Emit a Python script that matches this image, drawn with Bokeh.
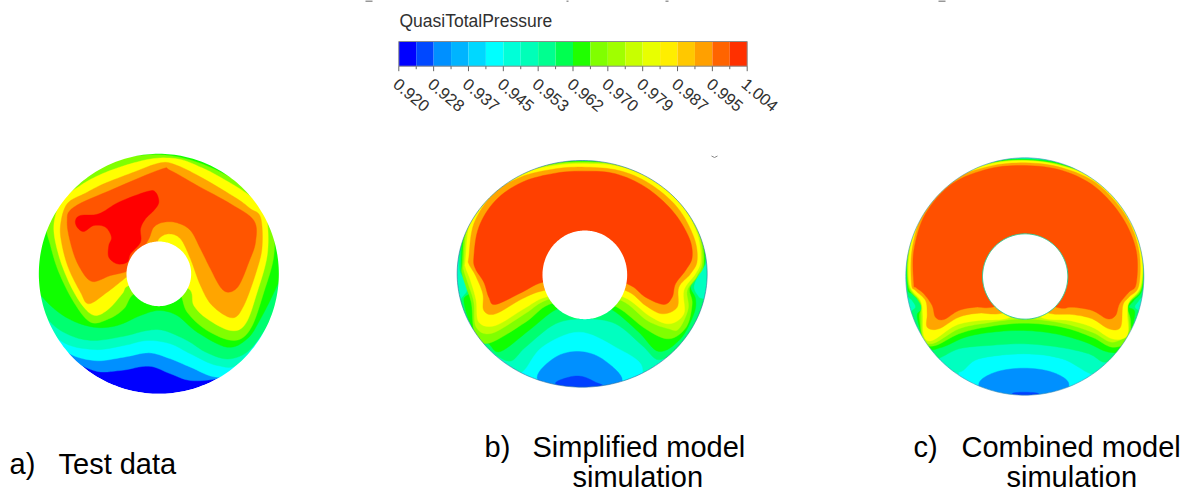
import numpy as np
from bokeh.embed import file_html
from bokeh.models import Range1d
from bokeh.plotting import figure
from bokeh.resources import INLINE
from bokeh.core.properties import value

# ---------- colour bar ----------
bar_title = "QuasiTotalPressure"
tick_values = [0.920, 0.928, 0.937, 0.945, 0.953, 0.962, 0.970, 0.979, 0.987, 0.995, 1.004]
bar_colors = ["#0000ff", "#0048ff", "#0090ff", "#00b4ff", "#00d8ff", "#00ffff", "#00ffd8", "#00ffb8",
              "#00ff90", "#00ff50", "#20ff00", "#80ff00", "#a0ff00", "#c8ff00", "#e8ff00", "#ffee00",
              "#ffc800", "#ffa000", "#ff6400", "#ff3000"]

# ---------- captions: text, x, y ----------
captions = [("a)", 9, 463), ("Test data", 58, 463),
            ("b)", 484, 446), ("Simplified model", 532, 446), ("simulation", 572, 476),
            ("c)", 913, 446), ("Combined model", 961, 446), ("simulation", 1006, 476)]

# ---------- contour outlines, lowest level first ----------
DBLUE, BLUE, CYAN, AQUA, SPRING, GREEN, LIME, YG, YEL, ORG, RORG, RED = (
    "#0000ff", "#0090ff", "#00ffff", "#00ffc0", "#00ff70", "#10ff00", "#80ff00", "#c0ff00",
    "#ffff00", "#ffa500", "#ff5500", "#ff0000")

a_bands = [
    (BLUE, [(30, 500), (100, 620), (190, 675), (270, 675), (355, 662), (420, 685), (480, 705), (560, 700), (640, 680), (740, 540), (790, 300), (790, -10), (-10, -10), (-10, 300)]),
    (CYAN, [(20, 500), (100, 612), (190, 645), (280, 635), (355, 622), (420, 640), (480, 665), (560, 695), (640, 668), (730, 530), (790, 300), (790, -10), (-10, -10), (-10, 300)]),
    (AQUA, [(10, 480), (90, 585), (190, 612), (280, 600), (350, 585), (420, 595), (480, 625), (560, 660), (630, 650), (720, 510), (790, 300), (790, -10), (-10, -10), (-10, 300)]),
    (SPRING, [(5, 450), (60, 530), (120, 570), (190, 585), (280, 572), (350, 555), (400, 555), (470, 585), (530, 622), (600, 640), (670, 600), (745, 470), (790, 300), (790, -10), (-10, -10), (-10, 300)]),
    (GREEN, [(0, 400), (50, 470), (115, 520), (190, 545), (260, 540), (330, 510), (385, 495), (440, 510), (500, 560), (590, 605), (650, 580), (690, 520), (740, 420), (790, 300), (790, -10), (-10, -10), (-10, 300)]),
    (LIME, [(60, 300), (50, 240), (85, 150), (140, 100), (200, 65), (280, 38), (360, 28), (430, 32), (500, 50), (570, 80), (640, 120), (690, 170), (725, 230), (730, 330), (700, 440), (660, 550), (610, 585), (530, 555), (470, 500), (445, 440), (385, 420), (310, 445), (280, 490), (235, 520), (180, 530), (130, 470), (85, 380)]),
    (YEL, [(85, 330), (70, 240), (95, 165), (150, 120), (215, 85), (300, 55), (380, 38), (450, 42), (510, 65), (560, 90), (650, 145), (690, 190), (710, 230), (710, 330), (680, 440), (645, 535), (600, 555), (530, 520), (490, 480), (475, 430), (385, 400), (295, 420), (275, 445), (235, 490), (195, 510), (160, 485), (120, 420)]),
    (ORG, [(95, 300), (90, 240), (110, 175), (165, 143), (220, 115), (305, 82), (390, 52), (440, 60), (520, 100), (620, 160), (660, 190), (690, 215), (695, 300), (680, 370), (640, 480), (605, 517), (545, 480), (510, 420), (480, 340), (450, 280), (415, 265), (385, 280), (370, 320), (320, 380), (288, 395), (275, 405), (230, 440), (175, 475), (150, 440), (115, 370)]),
    (RORG, [(125, 310), (110, 230), (130, 185), (250, 130), (390, 72), (420, 75), (500, 120), (600, 175), (670, 225), (675, 290), (655, 350), (625, 420), (595, 440), (570, 425), (540, 370), (510, 310), (480, 255), (440, 232), (400, 230), (370, 245), (355, 280), (330, 320), (300, 360), (288, 378), (240, 390), (185, 408), (150, 370)]),
    (RED, [(135, 225), (150, 210), (205, 205), (265, 170), (350, 138), (375, 140), (385, 170), (370, 195), (345, 220), (330, 250), (330, 290), (300, 325), (290, 350), (260, 355), (235, 335), (235, 300), (243, 275), (225, 245), (190, 240), (160, 258), (140, 245)]),
]

b_bands = [
    (CYAN, [(180, 655), (230, 665), (290, 590), (400, 545), (510, 590), (590, 650), (540, 730), (280, 730)]),
    (BLUE, [(275, 680), (330, 620), (400, 603), (470, 625), (530, 690), (450, 730), (330, 730)]),
    ("#0040ff", [(330, 700), (370, 680), (410, 678), (450, 695), (470, 708), (400, 725)]),
    (AQUA, [(-5, 370), (20, 200), (130, 50), (400, 0), (680, 60), (800, 230), (815, 380), (760, 550), (640, 630), (585, 590), (510, 525), (410, 505), (330, 525), (250, 570), (195, 635), (100, 570), (30, 470)]),
    (SPRING, [(42, 345), (55, 230), (120, 115), (215, 55), (330, 32), (420, 30), (525, 36), (630, 72), (720, 145), (770, 240), (782, 330), (760, 370), (745, 410), (760, 440), (775, 455), (750, 530), (700, 590), (640, 628), (590, 585), (510, 520), (420, 505), (330, 520), (240, 590), (190, 632), (120, 585), (70, 510), (45, 455), (65, 420), (55, 385)]),
    (GREEN, [(48, 345), (60, 225), (125, 118), (215, 58), (330, 35), (420, 32), (525, 38), (628, 75), (718, 148), (768, 245), (778, 335), (750, 375), (735, 410), (750, 445), (745, 490), (705, 565), (640, 603), (580, 545), (500, 478), (420, 450), (330, 478), (250, 540), (165, 603), (130, 580), (80, 530), (55, 450), (75, 425), (60, 385)]),
    (LIME, [(50, 370), (50, 340), (65, 200), (125, 115), (215, 60), (330, 38), (420, 34), (525, 40), (625, 78), (715, 150), (765, 250), (775, 340), (755, 380), (732, 415), (740, 460), (722, 530), (670, 565), (600, 535), (515, 470), (420, 440), (310, 462), (240, 515), (130, 578), (88, 550), (78, 460), (62, 410)]),
    (YG, [(55, 360), (55, 335), (70, 205), (128, 120), (218, 65), (330, 42), (420, 37), (522, 44), (622, 83), (710, 155), (760, 250), (770, 335), (752, 380), (725, 420), (728, 475), (700, 535), (670, 535), (605, 510), (528, 450), (420, 430), (305, 448), (238, 490), (140, 548), (92, 530), (85, 455), (68, 400)]),
    (YEL, [(60, 350), (60, 330), (75, 210), (130, 125), (220, 70), (330, 45), (420, 40), (520, 48), (620, 88), (705, 160), (755, 250), (765, 330), (750, 370), (715, 420), (715, 490), (670, 520), (610, 495), (535, 440), (420, 420), (300, 440), (235, 475), (150, 525), (100, 515), (92, 450), (75, 390)]),
    (ORG, [(70, 340), (70, 320), (85, 220), (140, 135), (225, 80), (330, 55), (420, 50), (520, 60), (610, 98), (695, 170), (745, 260), (755, 330), (735, 370), (700, 410), (695, 470), (650, 490), (600, 465), (540, 420), (420, 400), (295, 420), (230, 445), (150, 490), (115, 480), (112, 430), (90, 375)]),
    ("#ff4000", [(90, 355), (85, 320), (100, 230), (150, 150), (230, 95), (330, 68), (420, 62), (510, 70), (600, 110), (680, 180), (730, 260), (740, 320), (720, 360), (690, 400), (680, 440), (655, 462), (600, 440), (545, 400), (420, 370), (292, 395), (230, 425), (150, 462), (130, 440), (115, 395)]),
]

c_bands = [
    (CYAN, [(190, 665), (250, 625), (385, 610), (500, 625), (585, 670), (520, 750), (250, 750)]),
    (BLUE, [(250, 700), (300, 665), (385, 653), (470, 665), (520, 700), (480, 750), (290, 750)]),
    ("#0040ff", [(350, 730), (385, 725), (430, 730), (390, 745)]),
    (AQUA, [(-10, 380), (20, 200), (130, 40), (388, -10), (650, 40), (780, 200), (790, 400), (740, 560), (630, 670), (585, 670), (500, 625), (385, 610), (250, 625), (190, 665), (120, 640), (30, 540)]),
    (SPRING, [(33, 420), (35, 290), (72, 172), (155, 78), (280, 33), (390, 25), (505, 38), (615, 85), (702, 185), (742, 300), (744, 420), (730, 450), (718, 470), (735, 495), (705, 570), (665, 620), (625, 635), (580, 610), (490, 590), (385, 580), (280, 585), (190, 595), (115, 625), (75, 570), (45, 495), (60, 470), (50, 450)]),
    (GREEN, [(36, 410), (38, 290), (75, 175), (157, 81), (280, 36), (390, 27), (503, 41), (612, 88), (699, 187), (740, 300), (741, 412), (715, 450), (700, 470), (718, 490), (690, 590), (640, 605), (570, 575), (480, 550), (385, 540), (290, 545), (210, 560), (140, 590), (95, 590), (65, 500), (80, 475), (70, 450), (50, 430)]),
    (LIME, [(38, 405), (40, 288), (77, 178), (158, 83), (280, 39), (390, 29), (502, 44), (611, 90), (697, 188), (738, 300), (739, 410), (708, 450), (695, 470), (705, 510), (700, 570), (650, 590), (590, 560), (500, 530), (385, 518), (270, 530), (190, 550), (120, 585), (85, 575), (72, 500), (78, 470), (65, 445)]),
    (YG, [(40, 402), (42, 288), (78, 180), (159, 84), (280, 40), (390, 30), (501, 46), (610, 92), (696, 189), (737, 300), (737, 408), (703, 452), (697, 480), (698, 545), (650, 575), (590, 545), (500, 518), (385, 505), (270, 518), (190, 535), (115, 578), (83, 565), (78, 495), (75, 455)]),
    (YEL, [(42, 400), (45, 290), (80, 180), (160, 85), (280, 42), (390, 31), (500, 47), (610, 93), (695, 190), (736, 300), (736, 405), (700, 455), (695, 490), (695, 555), (650, 565), (590, 530), (520, 510), (450, 505), (389, 480), (330, 505), (250, 510), (180, 525), (110, 570), (85, 555), (82, 490), (75, 450)]),
    (ORG, [(48, 400), (50, 295), (85, 185), (165, 92), (280, 48), (390, 37), (500, 52), (605, 100), (690, 195), (730, 300), (730, 405), (700, 440), (682, 465), (675, 530), (640, 535), (590, 505), (530, 492), (470, 490), (389, 470), (310, 490), (250, 488), (190, 500), (130, 535), (95, 530), (95, 490), (90, 450), (60, 420)]),
    ("#ff5000", [(55, 400), (55, 300), (90, 190), (170, 100), (280, 55), (390, 45), (500, 60), (600, 110), (680, 200), (722, 300), (722, 400), (700, 425), (672, 460), (660, 495), (635, 505), (590, 480), (530, 470), (490, 472), (389, 440), (290, 470), (240, 470), (190, 480), (145, 507), (120, 500), (110, 465), (85, 430), (60, 410)]),
]

# disc: crop origin, outer ellipse (cx, cy, rx, ry), hole (cx, cy, rx, ry), base colour, bands, rim colour
discs = [
    ((30, 145), (385, 385, 360, 360), (385, 385, 97, 97), DBLUE, a_bands, None),
    ((445, 150), (410, 370, 375, 340), (418, 373, 127, 133), AQUA, b_bands, "#2a6f9e"),
    ((895, 150), (388, 378, 357, 356), (389, 378, 128, 128), AQUA, c_bands, "#3f8fb0"),
]


def smooth(pts, n=8):
    """Closed Catmull-Rom curve through the outline points."""
    P = np.array(pts, float)
    m = len(P)
    out = []
    for i in range(m):
        p0, p1, p2, p3 = P[i - 1], P[i], P[(i + 1) % m], P[(i + 2) % m]
        for t in np.linspace(0, 1, n, endpoint=False):
            out.append(0.5 * (2 * p1 + (p2 - p0) * t + (2 * p0 - 5 * p1 + 4 * p2 - p3) * t ** 2
                              + (3 * p1 - p0 - 3 * p2 + p3) * t ** 3))
    return np.array(out)


def ring(e, off, n=240):
    th = np.linspace(0, 2 * np.pi, n, endpoint=False)
    return off[0] + (e[0] + e[2] * np.cos(th)) / 3, off[1] + (e[1] + e[3] * np.sin(th)) / 3


p = figure(width=1190, height=492, output_backend="svg", toolbar_location=None,
           x_range=Range1d(0, 1190), y_range=Range1d(492, 0), min_border=0,
           x_axis_type=None, y_axis_type=None, outline_line_color=None)
p.grid.visible = False

for off, outer, hole, base, bands, rim in discs:
    ox, oy = ring(outer, off)
    p.patch(ox, oy, fill_color=base, line_color=None)
    for col, pts in bands:
        s = smooth(pts)
        sx = np.clip(off[0] + s[:, 0] / 3, ox.min() - 3, ox.max() + 3)
        sy = np.clip(off[1] + s[:, 1] / 3, oy.min() - 3, oy.max() + 3)
        p.patch(sx, sy, fill_color=col, line_color=col, line_width=0.4)
    # white surround hides what runs past the rim
    x0, x1 = ox.min() - 8, ox.max() + 8
    y0, y1 = oy.min() - 8, oy.max() + 8
    p.multi_polygons(xs=[[[[x0, x1, x1, x0], list(ox)]]], ys=[[[[y0, y0, y1, y1], list(oy)]]],
                     fill_color="white", line_color=None)
    hx, hy = ring(hole, off)
    p.patch(hx, hy, fill_color="white", line_color="#30c890" if off[0] == 895 else None, line_width=1)
    if rim:
        p.patch(ox, oy, fill_color=None, line_color=rim, line_alpha=0.6, line_width=1)

# colour bar
X0, X1, Y0, Y1 = 398.3, 746.7, 41.0, 65.7
Vmin, Vmax = tick_values[0], tick_values[-1]
edges = np.linspace(Vmin, Vmax, len(bar_colors) + 1)
to_x = lambda v: X0 + (np.asarray(v) - Vmin) / (Vmax - Vmin) * (X1 - X0)
p.quad(left=to_x(edges[:-1]), right=to_x(edges[1:]), top=Y0, bottom=Y1, fill_color=bar_colors,
       line_color=None)
p.quad(left=X0, right=X1, top=Y0, bottom=Y1, fill_color=None, line_color="#8c8c8c", line_width=1)
ex = to_x(edges)
p.segment(x0=ex, x1=ex, y0=Y1, y1=[Y1 + (5 if i % 2 == 0 else 3) for i in range(len(ex))],
          line_color="#666666", line_width=1)
tx = to_x(edges[::2])
p.text(x=list(tx - 3), y=[81] * len(tx), text=[f"{v:.3f}" for v in tick_values],
       text_font=value("Liberation Sans"), text_font_size="16.5px", text_color="#303030",
       text_align="left", text_baseline="middle", angle=-40, angle_units="deg")
p.text(x=[399], y=[20], text=[bar_title], text_font=value("Liberation Sans"), text_font_size="17.5px",
       text_color="#303030", text_align="left", text_baseline="middle")

# small stray mark above disc b
p.line(x=[711, 714, 717], y=[155.5, 157, 155.5], line_color="#888888", line_width=1)
# descenders of the cropped line at the very top
p.segment(x0=[365, 566, 665, 938], x1=[372, 568, 668, 945], y0=[0.5] * 4, y1=[0.5] * 4,
          line_color="#333333", line_width=1)

p.text(x=[c[1] for c in captions], y=[c[2] for c in captions], text=[c[0] for c in captions],
       text_font=value("Liberation Sans"), text_font_size="29px", text_color="black",
       text_align="left", text_baseline="middle")

open("out.html", "w").write(file_html(p, INLINE))
